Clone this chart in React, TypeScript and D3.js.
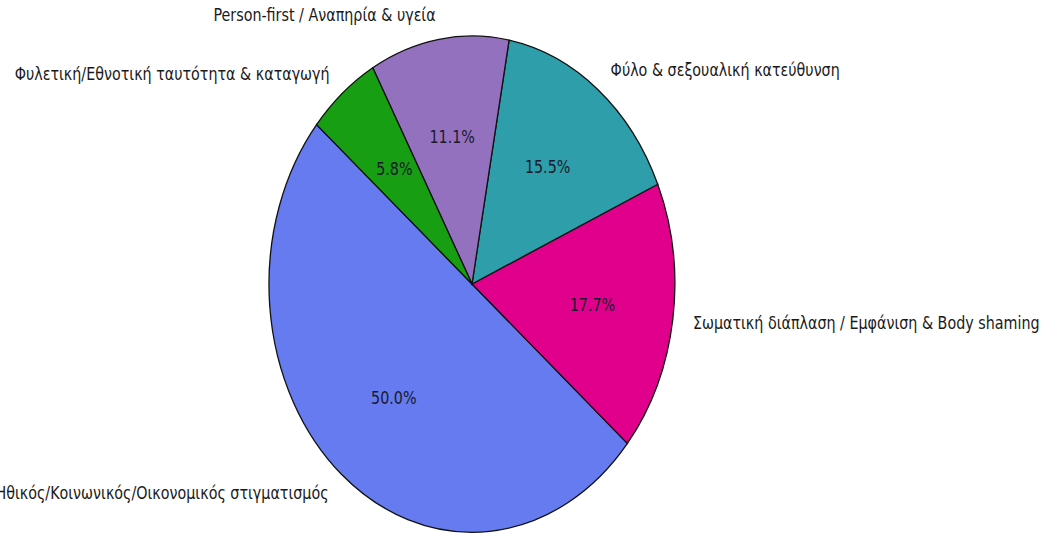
import React from "react";
import * as d3 from "d3";

const categories = [
  "Ηθικός/Κοινωνικός/Οικονομικός στιγματισμός",
  "Σωματική διάπλαση / Εμφάνιση & Body shaming",
  "Φύλο & σεξουαλική κατεύθυνση",
  "Person-first / Αναπηρία & υγεία",
  "Φυλετική/Εθνοτική ταυτότητα & καταγωγή",
];
const counts = [113, 40, 35, 25, 13];
const colors = ["#657bef", "#e0008b", "#2e9eab", "#9471bf", "#179e13"];

const W = 1048;
const H = 534;
const CX = 472;
const CY = 284;
const R = 248;
const SX = 0.818;
const START_DEG = 140; // matplotlib startangle, counter-clockwise

export default function App() {
  const total = d3.sum(counts);
  const a0 = ((90 - START_DEG) * Math.PI) / 180;
  const pie = d3
    .pie<number>()
    .sort(null)
    .value((d) => d)
    .startAngle(a0)
    .endAngle(a0 - 2 * Math.PI);
  const arcs = pie(counts);
  const arc = d3.arc<d3.PieArcDatum<number>>().innerRadius(0).outerRadius(R);
  const fmt = d3.format(".1f");

  return (
    <svg
      width={W}
      height={H}
      style={{ position: "absolute", left: 0, top: 0, display: "block", background: "#fff" }}
      fontFamily="DejaVu Sans"
    >
      <g transform={`translate(${CX},${CY}) scale(${SX},1)`}>
        {arcs.map((a, i) => (
          <path
            key={i}
            d={arc(a) || ""}
            fill={colors[i]}
            stroke="#111"
            strokeWidth={1.3}
            vectorEffect="non-scaling-stroke"
          />
        ))}
        {arcs.map((a, i) => {
          const mid = (a.startAngle + a.endAngle) / 2;
          const px = 0.6 * R * Math.sin(mid);
          const py = -0.6 * R * Math.cos(mid);
          const lx = 1.1 * R * Math.sin(mid);
          const ly = -1.1 * R * Math.cos(mid);
          return (
            <g key={"t" + i}>
              <text
                x={px}
                y={py}
                textAnchor="middle"
                dominantBaseline="central"
                fontSize={17.5}
                fill="#1a1a2a"
              >
                {fmt((a.data / total) * 100) + "%"}
              </text>
              <text
                x={lx}
                y={ly}
                textAnchor={lx > 0 ? "start" : "end"}
                dominantBaseline="central"
                fontSize={17.5}
                fill="#1a1a1a"
              >
                {categories[i]}
              </text>
            </g>
          );
        })}
      </g>
    </svg>
  );
}
